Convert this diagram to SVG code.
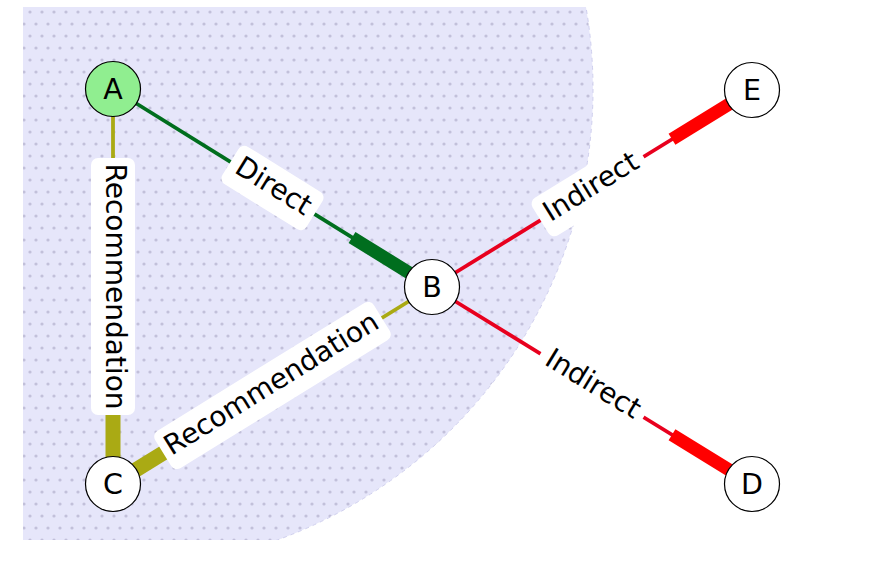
<svg xmlns="http://www.w3.org/2000/svg" width="893" height="562" viewBox="0 0 893 562">
  <style>
    .node circle { fill: #ffffff; stroke: #000000; stroke-width: 1.2; }
    .node text, .lbl text { font-family: "DejaVu Sans", "Liberation Sans", sans-serif; fill: #000000; text-anchor: middle; }
    .node text { font-size: 28.5px; }
    .lbl text { font-size: 28px; }
    .lbl rect { fill: #ffffff; }
    .thin { stroke-width: 3.8; fill: none; }
    .thick { stroke-width: 13; fill: none; }
    .green { stroke: #006e1e; }
    .olive { stroke: #aaaa14; }
    .red-thin { stroke: #e8001e; }
    .red { stroke: #ff0000; }
  </style>
  <defs>
    <pattern id="dots" patternUnits="userSpaceOnUse" x="0" y="0" width="12" height="24">
      <rect width="12" height="24" fill="#e6e6fa"/>
      <circle cx="6" cy="12" r="1.6" fill="#c2c0da"/>
      <circle cx="0" cy="0" r="1.6" fill="#c2c0da"/>
      <circle cx="12" cy="0" r="1.6" fill="#c2c0da"/>
      <circle cx="0" cy="24" r="1.6" fill="#c2c0da"/>
      <circle cx="12" cy="24" r="1.6" fill="#c2c0da"/>
    </pattern>
    <clipPath id="clip">
      <rect x="23" y="7" width="860" height="533"/>
    </clipPath>
  </defs>
  <rect width="893" height="562" fill="#ffffff"/>
  <g id="region" clip-path="url(#clip)">
    <circle cx="113" cy="89" r="480" fill="url(#dots)" stroke="#cfcfee" stroke-width="1" stroke-dasharray="4 4"/>
  </g>
  <g id="connectors">
    <line class="thin green" x1="113" y1="89" x2="432" y2="287"/>
    <line class="thick green" x1="352" y1="237.4" x2="432" y2="287"/>
    <line class="thin olive" x1="113" y1="89" x2="113" y2="484"/>
    <line class="thick olive" x1="113" y1="390" x2="113" y2="484" style="stroke-width:15"/>
    <line class="thin olive" x1="432" y1="287" x2="113" y2="484"/>
    <line class="thick olive" x1="193" y1="434.6" x2="113" y2="484" style="stroke-width:15"/>
    <line class="thin red-thin" x1="432" y1="287" x2="752" y2="90"/>
    <line class="thick red" x1="672" y1="139.3" x2="752" y2="90"/>
    <line class="thin red-thin" x1="432" y1="287" x2="752" y2="484"/>
    <line class="thick red" x1="672" y1="434.7" x2="752" y2="484"/>
    <g class="lbl" transform="translate(272.5,188) rotate(31.83)">
      <rect x="-49.5" y="-22" width="99" height="44" rx="7"/>
      <text x="0" y="7">Direct</text>
    </g>
    <g class="lbl" transform="translate(113,286.5) rotate(90)">
      <rect x="-128.5" y="-22" width="257" height="44" rx="7"/>
      <text x="0" y="7">Recommendation</text>
    </g>
    <g class="lbl" transform="translate(272.5,385.5) rotate(-31.7)">
      <rect x="-128.5" y="-22" width="257" height="44" rx="7"/>
      <text x="0" y="7">Recommendation</text>
    </g>
    <g class="lbl" transform="translate(592,188.5) rotate(-31.62)">
      <rect x="-60.5" y="-22" width="121" height="44" rx="7"/>
      <text x="0" y="7">Indirect</text>
    </g>
    <g class="lbl" transform="translate(592,385.5) rotate(31.62)">
      <rect x="-60.5" y="-22" width="121" height="44" rx="7"/>
      <text x="0" y="7">Indirect</text>
    </g>
  </g>
  <g id="node-A" class="node">
    <circle cx="113" cy="89" r="27.5" style="fill:#90ee90"/>
    <text x="113" y="99">A</text>
  </g>
  <g id="node-B" class="node">
    <circle cx="432" cy="287" r="27.5"/>
    <text x="432" y="297">B</text>
  </g>
  <g id="node-C" class="node">
    <circle cx="113" cy="484" r="27.5"/>
    <text x="113" y="494">C</text>
  </g>
  <g id="node-D" class="node">
    <circle cx="752" cy="484" r="27.5"/>
    <text x="752" y="494">D</text>
  </g>
  <g id="node-E" class="node">
    <circle cx="752" cy="90" r="27.5"/>
    <text x="752" y="100">E</text>
  </g>
</svg>
